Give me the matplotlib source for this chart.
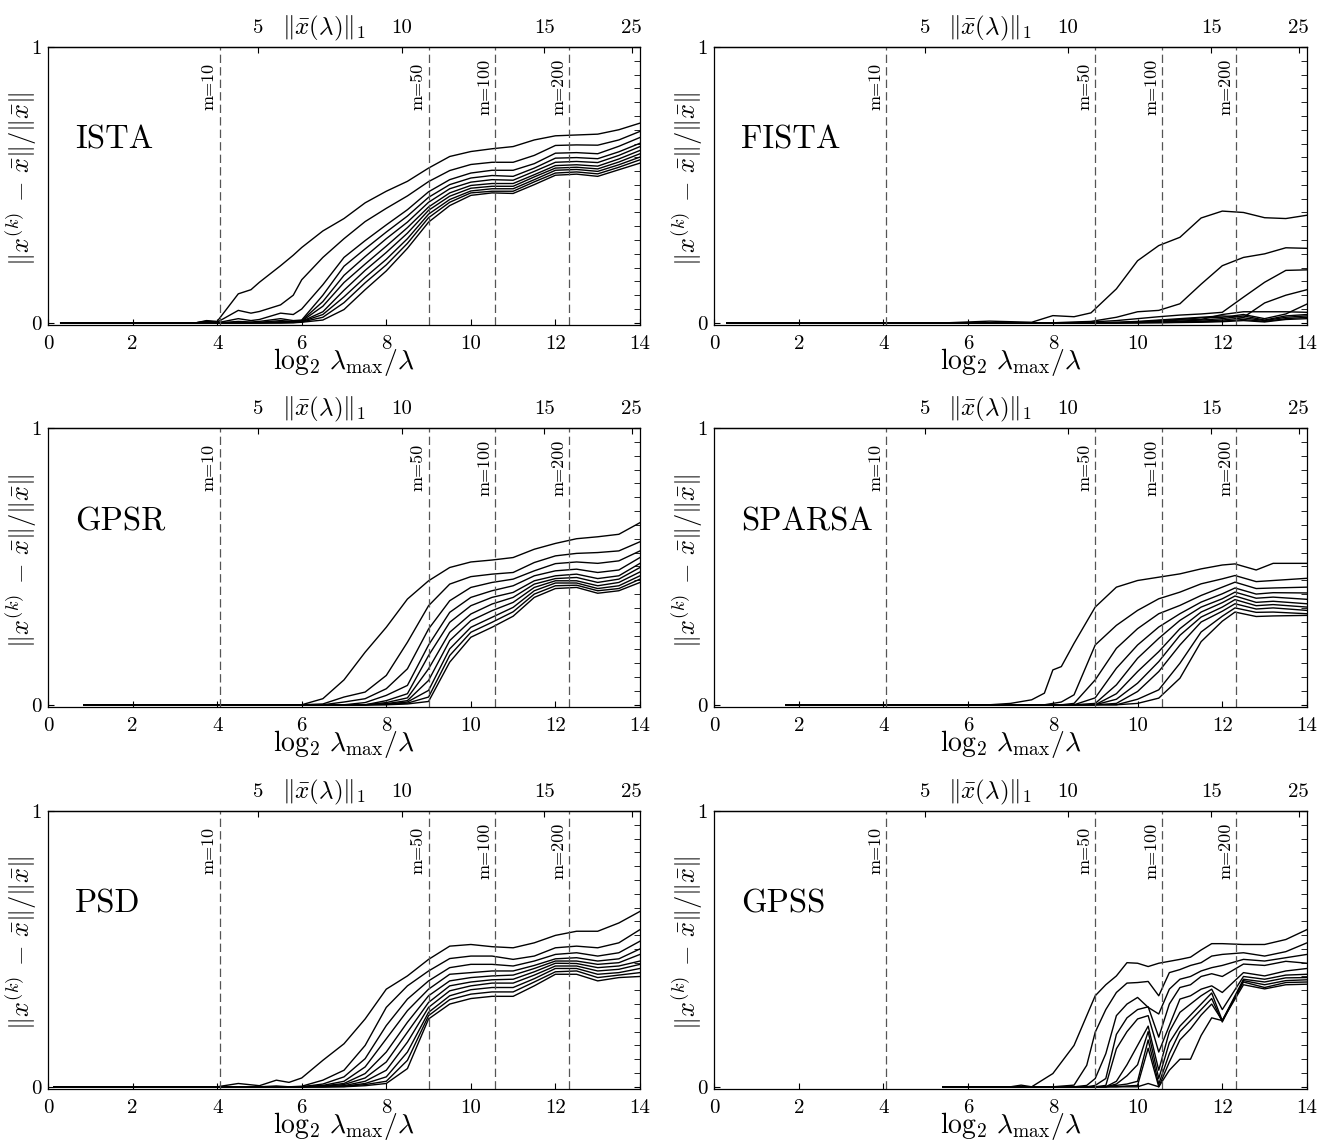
import matplotlib
matplotlib.use('Agg')
import matplotlib.pyplot as plt
from matplotlib.ticker import MultipleLocator

plt.rcParams['mathtext.fontset'] = 'cm'
plt.rcParams['font.family'] = ['cmr10', 'DejaVu Serif']
plt.rcParams['axes.formatter.use_mathtext'] = True
plt.rcParams['lines.scale_dashes'] = False

# ---------------- data ----------------
m_lines = [4.06, 9.0, 10.57, 12.33]
m_labels = ['m=10', 'm=50', 'm=100', 'm=200']
x_ticks = [0, 2, 4, 6, 8, 10, 12, 14]
top_ticks = [4.975, 8.36, 11.74, 13.8]
top_labels = ['5', '10', '15', '25']

ista_x = [0.3, 3.5, 3.75, 4.0, 4.5, 4.8, 5.0, 5.5, 5.8, 6.0, 6.5, 7.0, 7.5, 8.0, 8.5, 9.0, 9.5, 10.0, 10.5, 11.0, 11.5, 12.0, 12.5, 13.0, 13.5, 14.0]
ista_y = [
    [0, 0, .008, .005, .105, .12, .147, .207, .245, .273, .333, .378, .435, .477, .513, .561, .603, .621, .631, .639, .663, .678, .681, .684, .700, .724],
    [0, 0, .006, .002, .045, .035, .041, .065, .100, .156, .237, .305, .367, .415, .460, .512, .552, .574, .582, .582, .607, .643, .645, .644, .663, .694],
    [0, 0, .004, 0, .015, .008, .012, .035, .030, .050, .138, .237, .298, .355, .410, .475, .519, .543, .553, .553, .577, .615, .617, .613, .640, .672],
    [0, 0, .002, 0, .005, .003, .005, .015, .008, .010, .100, .205, .268, .329, .387, .455, .501, .525, .534, .531, .561, .597, .599, .595, .620, .651],
    [0, 0, 0, 0, 0, 0, .002, .008, .005, .008, .077, .172, .240, .305, .365, .437, .486, .510, .519, .517, .549, .582, .585, .581, .607, .639],
    [0, 0, 0, 0, 0, 0, 0, .004, .004, .006, .060, .146, .213, .278, .345, .420, .471, .498, .505, .505, .537, .570, .573, .568, .594, .625],
    [0, 0, 0, 0, 0, 0, 0, .002, .003, .005, .040, .118, .190, .255, .325, .408, .459, .488, .495, .495, .529, .561, .564, .558, .583, .613],
    [0, 0, 0, 0, 0, 0, 0, 0, .002, .004, .030, .094, .165, .230, .305, .394, .447, .478, .486, .486, .519, .553, .556, .549, .573, .601],
    [0, 0, 0, 0, 0, 0, 0, 0, .001, .003, .020, .073, .145, .210, .288, .381, .437, .471, .477, .477, .511, .543, .547, .540, .564, .591],
    [0, 0, 0, 0, 0, 0, 0, 0, 0, .002, .010, .048, .120, .188, .270, .365, .425, .462, .471, .469, .501, .535, .539, .531, .555, .579],
]

fista_x = [0.3, 5.5, 6.0, 6.5, 7.0, 7.5, 8.0, 8.5, 8.9, 9.5, 10.0, 10.5, 11.0, 11.5, 12.0, 12.5, 13.0, 13.5, 14.0]
fista_y = [
    [0, 0, .003, .006, .004, .002, .026, .022, .036, .123, .225, .280, .310, .380, .405, .400, .381, .378, .390],
    [0, 0, 0, 0, 0, 0, 0, .003, .005, .020, .040, .045, .069, .140, .207, .237, .250, .272, .270],
    [0, 0, 0, 0, 0, 0, 0, 0, .003, .008, .015, .022, .028, .032, .038, .093, .147, .190, .192],
    [0, 0, 0, 0, 0, 0, 0, 0, 0, .002, .005, .010, .015, .020, .025, .020, .072, .100, .120],
    [0, 0, 0, 0, 0, 0, 0, 0, 0, .001, .003, .008, .012, .018, .020, .030, .015, .032, .068],
    [0, 0, 0, 0, 0, 0, 0, 0, 0, 0, .002, .005, .010, .012, .030, .040, .040, .040, .038],
    [0, 0, 0, 0, 0, 0, 0, 0, 0, 0, .001, .003, .006, .010, .015, .025, .010, .025, .030],
    [0, 0, 0, 0, 0, 0, 0, 0, 0, 0, .001, .002, .004, .006, .010, .018, .008, .020, .025],
    [0, 0, 0, 0, 0, 0, 0, 0, 0, 0, 0, .001, .002, .004, .006, .012, .005, .015, .020],
    [0, 0, 0, 0, 0, 0, 0, 0, 0, 0, 0, 0, .001, .002, .004, .008, .003, .012, .015],
]

gpsr_x = [0.85, 6.0, 6.5, 7.0, 7.5, 8.0, 8.5, 9.0, 9.5, 10.0, 10.5, 11.0, 11.5, 12.0, 12.5, 13.0, 13.5, 14.0]
gpsr_y = [
    [0, 0, .022, .090, .190, .280, .382, .448, .496, .516, .523, .532, .562, .583, .600, .607, .616, .658],
    [0, 0, .003, .028, .046, .106, .226, .358, .436, .463, .472, .478, .514, .538, .547, .550, .556, .589],
    [0, 0, 0, .010, .022, .058, .130, .274, .376, .424, .442, .454, .484, .510, .516, .511, .520, .556],
    [0, 0, 0, 0, .008, .034, .070, .216, .334, .388, .412, .430, .466, .484, .490, .478, .487, .532],
    [0, 0, 0, 0, 0, .015, .040, .178, .298, .358, .388, .406, .448, .466, .472, .456, .466, .511],
    [0, 0, 0, 0, 0, .008, .025, .130, .262, .328, .364, .388, .436, .456, .460, .442, .454, .496],
    [0, 0, 0, 0, 0, .004, .015, .088, .232, .304, .340, .370, .424, .448, .448, .430, .442, .480],
    [0, 0, 0, 0, 0, .002, .010, .052, .202, .280, .316, .352, .412, .440, .440, .420, .430, .466],
    [0, 0, 0, 0, 0, .001, .006, .028, .178, .262, .298, .336, .400, .430, .432, .412, .420, .454],
    [0, 0, 0, 0, 0, 0, .003, .012, .154, .244, .280, .320, .388, .420, .424, .403, .412, .442],
]

sparsa_x = [1.7, 6.5, 7.0, 7.5, 7.8, 8.0, 8.2, 8.5, 9.0, 9.5, 10.0, 10.5, 11.0, 11.5, 12.0, 12.3, 12.8, 13.2, 14.0]
sparsa_y = [
    [0, 0, .005, .018, .042, .126, .138, .222, .353, .425, .449, .461, .473, .491, .505, .509, .487, .511, .511],
    [0, 0, 0, 0, 0, .005, .010, .036, .216, .287, .341, .383, .407, .437, .455, .467, .445, .449, .457],
    [0, 0, 0, 0, 0, 0, 0, .005, .090, .204, .275, .329, .359, .395, .425, .443, .420, .422, .425],
    [0, 0, 0, 0, 0, 0, 0, 0, .025, .132, .216, .281, .329, .371, .401, .422, .400, .405, .404],
    [0, 0, 0, 0, 0, 0, 0, 0, .005, .072, .168, .240, .305, .353, .383, .407, .385, .389, .381],
    [0, 0, 0, 0, 0, 0, 0, 0, 0, .040, .120, .192, .275, .335, .369, .393, .370, .374, .365],
    [0, 0, 0, 0, 0, 0, 0, 0, 0, .020, .078, .156, .251, .317, .353, .380, .358, .362, .353],
    [0, 0, 0, 0, 0, 0, 0, 0, 0, .005, .048, .120, .216, .299, .338, .365, .346, .350, .341],
    [0, 0, 0, 0, 0, 0, 0, 0, 0, 0, .020, .054, .150, .263, .320, .350, .334, .335, .329],
    [0, 0, 0, 0, 0, 0, 0, 0, 0, 0, .005, .024, .096, .228, .302, .335, .319, .321, .323],
]

psd_x = [0.15, 4.0, 4.5, 5.0, 5.4, 5.7, 6.0, 6.5, 7.0, 7.5, 8.0, 8.5, 9.0, 9.5, 10.0, 10.5, 11.0, 11.5, 12.0, 12.5, 13.0, 13.5, 14.0]
psd_y = [
    [0, 0, .012, .004, .024, .016, .032, .096, .156, .246, .354, .402, .462, .510, .516, .508, .504, .522, .549, .564, .564, .594, .636],
    [0, 0, 0, 0, .003, 0, .002, .024, .060, .150, .288, .366, .420, .465, .474, .474, .462, .474, .504, .510, .504, .522, .570],
    [0, 0, 0, 0, 0, 0, 0, .010, .036, .102, .222, .318, .384, .432, .444, .444, .438, .456, .480, .486, .474, .486, .528],
    [0, 0, 0, 0, 0, 0, 0, .005, .020, .072, .174, .276, .354, .408, .414, .420, .420, .440, .464, .468, .456, .464, .500],
    [0, 0, 0, 0, 0, 0, 0, .003, .012, .048, .126, .234, .330, .384, .396, .402, .405, .429, .456, .456, .444, .450, .480],
    [0, 0, 0, 0, 0, 0, 0, .002, .008, .032, .090, .198, .306, .366, .380, .388, .390, .417, .448, .447, .432, .438, .456],
    [0, 0, 0, 0, 0, 0, 0, 0, .004, .020, .060, .162, .288, .348, .366, .376, .376, .405, .438, .438, .420, .426, .444],
    [0, 0, 0, 0, 0, 0, 0, 0, .002, .012, .036, .126, .270, .330, .352, .360, .360, .392, .429, .429, .408, .414, .429],
    [0, 0, 0, 0, 0, 0, 0, 0, .001, .008, .020, .096, .258, .316, .336, .344, .344, .380, .417, .420, .396, .405, .414],
    [0, 0, 0, 0, 0, 0, 0, 0, 0, .004, .012, .066, .246, .300, .320, .328, .328, .366, .408, .408, .384, .396, .400],
]

gpss_x = [5.4, 7.0, 7.25, 7.5, 8.0, 8.5, 8.8, 9.0, 9.25, 9.5, 9.75, 10.0, 10.25, 10.5, 10.75, 11.0, 11.25, 11.5, 11.75, 12.0, 12.5, 13.0, 13.5, 14.0]
gpss_y = [
    [0, 0, .006, 0, .048, .150, .258, .330, .370, .402, .450, .448, .436, .448, .455, .462, .470, .496, .519, .519, .516, .516, .534, .570],
    [0, 0, 0, 0, 0, .006, .078, .198, .280, .342, .376, .378, .382, .330, .414, .425, .440, .450, .474, .480, .486, .474, .490, .522],
    [0, 0, 0, 0, 0, 0, .005, .030, .120, .258, .300, .324, .288, .264, .354, .390, .400, .420, .432, .440, .462, .456, .468, .480],
    [0, 0, 0, 0, 0, 0, 0, .005, .030, .190, .250, .280, .290, .180, .300, .360, .370, .400, .410, .400, .445, .440, .455, .448],
    [0, 0, 0, 0, 0, 0, 0, 0, .005, .138, .200, .246, .258, .126, .222, .318, .330, .354, .366, .342, .414, .402, .420, .429],
    [0, 0, 0, 0, 0, 0, 0, 0, 0, .020, .080, .150, .220, .060, .200, .270, .300, .330, .354, .280, .400, .390, .405, .408],
    [0, 0, 0, 0, 0, 0, 0, 0, 0, .010, .040, .080, .200, .030, .160, .220, .260, .300, .340, .240, .390, .380, .395, .396],
    [0, 0, 0, 0, 0, 0, 0, 0, 0, .005, .010, .020, .170, .010, .120, .200, .240, .280, .320, .235, .385, .370, .385, .388],
    [0, 0, 0, 0, 0, 0, 0, 0, 0, 0, .003, .005, .140, 0, .090, .170, .210, .260, .300, .240, .380, .360, .378, .380],
    [0, 0, 0, 0, 0, 0, 0, 0, 0, 0, 0, 0, .012, 0, .060, .100, .100, .186, .250, .240, .370, .355, .370, .372],
]

panels = [
    ('ISTA', ista_x, ista_y),
    ('FISTA', fista_x, fista_y),
    ('GPSR', gpsr_x, gpsr_y),
    ('SPARSA', sparsa_x, sparsa_y),
    ('PSD', psd_x, psd_y),
    ('GPSS', gpss_x, gpss_y),
]

# ---------------- layout ----------------
W, H = 1327, 1140
fig = plt.figure(figsize=(W / 100, H / 100), dpi=100)
col_lr = [(48, 640), (714, 1307)]
row_tb = [(47, 325), (428, 707), (811, 1089)]

xlabel = r'$\log_2\,\lambda_{\max}/\lambda$'
ylabel = r'$\|x^{(k)}\,-\,\bar{x}\|/\|\bar{x}\|$'
toplabel = r'$\|\bar{x}(\lambda)\|_1$'

for i, (name, xs, ys) in enumerate(panels):
    r, c = divmod(i, 2)
    l, rr = col_lr[c]
    t, b = row_tb[r]
    ax = fig.add_axes([l / W, 1 - b / H, (rr - l) / W, (b - t) / H])
    for yv in ys:
        ax.plot(xs, yv, color='black', lw=1.0)
    for xm, lab in zip(m_lines, m_labels):
        ax.axvline(xm, color='#555555', lw=0.9, dashes=(6, 3))
        ax.annotate(lab, xy=(xm, 0.857), xytext=(-2, 0), textcoords='offset points',
                    rotation=90, ha='right', va='center', fontsize=13)
    ax.text(0.64, 0.662, name, fontsize=23.5, ha='left', va='center')

    ax.set_xlim(0, 14)
    ax.set_ylim(-0.008, 1.0)
    ax.set_xticks(x_ticks)
    ax.set_xticklabels([str(v) for v in x_ticks])
    ax.set_yticks([0, 1])
    ax.set_yticklabels(['0', '1'])
    ax.yaxis.set_minor_locator(MultipleLocator(0.05))
    ax.tick_params(axis='x', which='both', direction='in', top=False, length=4,
                   labelsize=15, pad=7)
    ax.tick_params(axis='y', which='major', direction='in', left=True, right=True,
                   length=4, labelsize=15, pad=4.5)
    ax.tick_params(axis='y', which='minor', direction='in', left=False, right=True,
                   length=4)
    for sp in ax.spines.values():
        sp.set_linewidth(0.9)

    ax.set_xlabel(xlabel, fontsize=20, labelpad=-5)
    ax.set_ylabel(ylabel, fontsize=19)
    ax.yaxis.set_label_coords(-0.016, 0.525)

    sec = ax.secondary_xaxis('top')
    sec.set_xticks(top_ticks)
    sec.set_xticklabels(top_labels)
    sec.tick_params(direction='in', length=4, labelsize=15, pad=7)
    sec.spines['top'].set_linewidth(0.9)
    ax.annotate(toplabel, xy=(6.52, 1.0), xycoords=('data', 'axes fraction'),
                xytext=(0, 13), textcoords='offset points', ha='center', va='center',
                fontsize=18)

fig.savefig('out.png', dpi=100)
